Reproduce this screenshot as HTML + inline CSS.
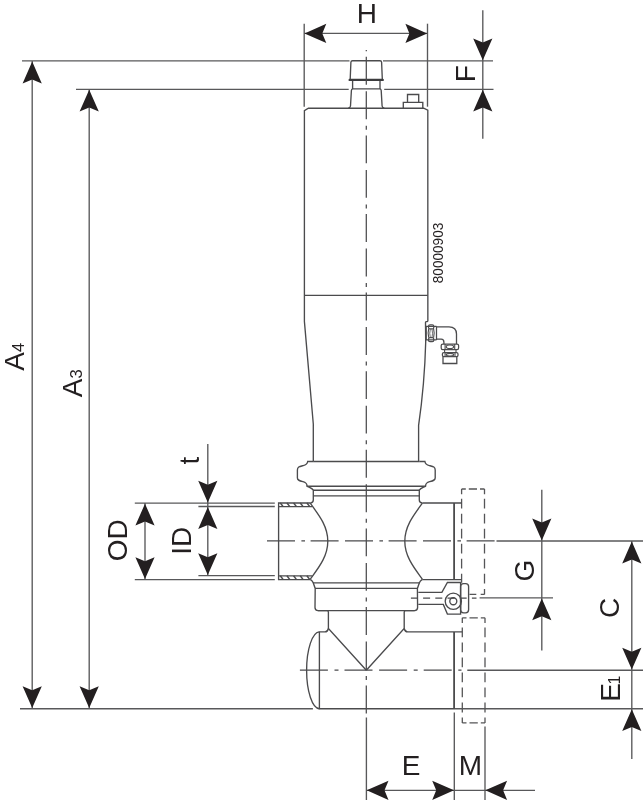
<!DOCTYPE html>
<html><head><meta charset="utf-8"><title>Valve dimension drawing</title>
<style>
html,body{margin:0;padding:0;background:#fff;}
body{width:644px;height:800px;overflow:hidden;}
svg{display:block;will-change:transform;}
text{font-family:"Liberation Sans",sans-serif;}
</style></head><body>
<svg width="644" height="800" viewBox="0 0 644 800">
<rect width="644" height="800" fill="#fff"/>
<line x1="304.2" y1="23.7" x2="304.2" y2="106.7" stroke="#58585a" stroke-width="1.35" />
<line x1="427.5" y1="23.7" x2="427.5" y2="106.7" stroke="#58585a" stroke-width="1.35" />
<line x1="304.2" y1="33.4" x2="427.5" y2="33.4" stroke="#58585a" stroke-width="1.35" />
<polygon points="304.50,33.40 326.30,23.80 322.30,33.40 326.30,43.00" fill="#231f20"/>
<polygon points="427.20,33.40 405.40,23.80 409.40,33.40 405.40,43.00" fill="#231f20"/>
<text x="366.9" y="23.3" font-size="28" text-anchor="middle" fill="#231f20" >H</text>
<line x1="22" y1="60.9" x2="349.5" y2="60.9" stroke="#58585a" stroke-width="1.35" />
<line x1="383" y1="60.9" x2="493" y2="60.9" stroke="#58585a" stroke-width="1.35" />
<line x1="76" y1="89.3" x2="348.7" y2="89.3" stroke="#58585a" stroke-width="1.35" />
<line x1="384.2" y1="89.3" x2="493.5" y2="89.3" stroke="#58585a" stroke-width="1.35" />
<line x1="482.8" y1="10.3" x2="482.8" y2="138.7" stroke="#58585a" stroke-width="1.35" />
<polygon points="482.80,60.30 473.20,38.50 482.80,42.50 492.40,38.50" fill="#231f20"/>
<polygon points="482.80,89.70 473.20,111.50 482.80,107.50 492.40,111.50" fill="#231f20"/>
<text transform="translate(475.3,82.3) rotate(-90)" font-size="28" text-anchor="start" fill="#231f20" >F</text>
<line x1="32.2" y1="61" x2="32.2" y2="708.7" stroke="#58585a" stroke-width="1.35" />
<polygon points="32.20,61.60 22.60,83.40 32.20,79.40 41.80,83.40" fill="#231f20"/>
<polygon points="32.20,708.10 22.60,686.30 32.20,690.30 41.80,686.30" fill="#231f20"/>
<line x1="89.2" y1="89.1" x2="89.2" y2="708.7" stroke="#58585a" stroke-width="1.35" />
<polygon points="89.20,89.70 79.60,111.50 89.20,107.50 98.80,111.50" fill="#231f20"/>
<polygon points="89.20,708.10 79.60,686.30 89.20,690.30 98.80,686.30" fill="#231f20"/>
<text transform="translate(24.2,370.7) rotate(-90)" font-size="28" text-anchor="start" fill="#231f20" >A<tspan font-size="16.5">4</tspan></text>
<text transform="translate(81.7,397.2) rotate(-90)" font-size="28" text-anchor="start" fill="#231f20" >A<tspan font-size="16.5">3</tspan></text>
<line x1="20" y1="708.75" x2="312.9" y2="708.75" stroke="#58585a" stroke-width="1.35" />
<line x1="454" y1="708.75" x2="643" y2="708.75" stroke="#58585a" stroke-width="1.35" />
<line x1="134.8" y1="503.1" x2="274.8" y2="503.1" stroke="#58585a" stroke-width="1.35" />
<line x1="134.8" y1="579.6" x2="274.8" y2="579.6" stroke="#58585a" stroke-width="1.35" />
<line x1="198.4" y1="506.5" x2="274.8" y2="506.5" stroke="#58585a" stroke-width="1.35" />
<line x1="198.4" y1="575.6" x2="274.8" y2="575.6" stroke="#58585a" stroke-width="1.35" />
<line x1="145" y1="503.1" x2="145" y2="579.6" stroke="#58585a" stroke-width="1.35" />
<polygon points="145.00,503.70 135.40,525.50 145.00,521.50 154.60,525.50" fill="#231f20"/>
<polygon points="145.00,579.00 135.40,557.20 145.00,561.20 154.60,557.20" fill="#231f20"/>
<line x1="207.8" y1="444" x2="207.8" y2="575.6" stroke="#58585a" stroke-width="1.35" />
<polygon points="207.80,502.50 198.20,480.70 207.80,484.70 217.40,480.70" fill="#231f20"/>
<polygon points="207.80,507.10 198.20,528.90 207.80,524.90 217.40,528.90" fill="#231f20"/>
<polygon points="207.80,575.00 198.20,553.20 207.80,557.20 217.40,553.20" fill="#231f20"/>
<text transform="translate(127.2,561.3) rotate(-90)" font-size="28" text-anchor="start" fill="#231f20" >OD</text>
<text transform="translate(191.2,554.7) rotate(-90)" font-size="28" text-anchor="start" fill="#231f20" >ID</text>
<text transform="translate(198.6,464.5) rotate(-90)" font-size="28" text-anchor="start" fill="#231f20" >t</text>
<line x1="541.8" y1="489.8" x2="541.8" y2="650.5" stroke="#58585a" stroke-width="1.35" />
<polygon points="541.80,540.40 532.20,518.60 541.80,522.60 551.40,518.60" fill="#231f20"/>
<polygon points="541.80,598.50 532.20,620.30 541.80,616.30 551.40,620.30" fill="#231f20"/>
<line x1="496.5" y1="541" x2="643" y2="541" stroke="#58585a" stroke-width="1.35" />
<line x1="479.6" y1="597.9" x2="553" y2="597.9" stroke="#58585a" stroke-width="1.35" />
<text transform="translate(533.6,581.5) rotate(-90)" font-size="28" text-anchor="start" fill="#231f20" >G</text>
<line x1="631.8" y1="541" x2="631.8" y2="759" stroke="#58585a" stroke-width="1.35" />
<polygon points="631.80,541.60 622.20,563.40 631.80,559.40 641.40,563.40" fill="#231f20"/>
<polygon points="631.80,669.60 622.20,647.80 631.80,651.80 641.40,647.80" fill="#231f20"/>
<polygon points="631.80,709.30 622.20,731.10 631.80,727.10 641.40,731.10" fill="#231f20"/>
<line x1="467.3" y1="670.2" x2="643" y2="670.2" stroke="#58585a" stroke-width="1.35" />
<text transform="translate(619.4,618) rotate(-90)" font-size="28" text-anchor="start" fill="#231f20" >C</text>
<text transform="translate(620,701.8) rotate(-90)" font-size="28" text-anchor="start" fill="#231f20" >E<tspan font-size="16" dx="-1.3">1</tspan></text>
<line x1="366.4" y1="717.5" x2="366.4" y2="800" stroke="#58585a" stroke-width="1.35" />
<line x1="454.3" y1="712.5" x2="454.3" y2="800" stroke="#58585a" stroke-width="1.35" />
<line x1="485" y1="726.6" x2="485" y2="800" stroke="#58585a" stroke-width="1.35" />
<line x1="366.4" y1="790.3" x2="535" y2="790.3" stroke="#58585a" stroke-width="1.35" />
<polygon points="366.70,790.30 388.50,780.70 384.50,790.30 388.50,799.90" fill="#231f20"/>
<polygon points="454.00,790.30 432.20,780.70 436.20,790.30 432.20,799.90" fill="#231f20"/>
<polygon points="485.30,790.30 507.10,780.70 503.10,790.30 507.10,799.90" fill="#231f20"/>
<text x="411.2" y="775.4" font-size="28" text-anchor="middle" fill="#231f20" >E</text>
<text x="470.5" y="775.4" font-size="28" text-anchor="middle" fill="#231f20" >M</text>
<path d="M461.6,489 L461.6,494.3 M461.6,498.8 L461.6,508.5 M461.6,513.8 L461.6,523.5 M461.6,528.8 L461.6,538.6 M461.6,543.8 L461.6,553.6 M461.6,558.8 L461.6,568.6 M461.6,573.8 L461.6,582.8 M484.5,489 L484.5,494.3 M484.5,498.8 L484.5,508.5 M484.5,513.8 L484.5,523.5 M484.5,528.8 L484.5,538.6 M484.5,543.8 L484.5,553.6 M484.5,558.8 L484.5,568.6 M484.5,573.8 L484.5,583.6 M484.5,588.9 L484.5,594.4 M461.6,489 L465.8,489 M468.8,489 L477,489 M480,489 L484.5,489 M480.7,594.4 L484.5,594.4 M469.5,594.4 L476.3,594.4" fill="none" stroke="#555557" stroke-width="1.3" />
<path d="M462.3,617.8 L462.3,623 M462.3,627.5 L462.3,637.3 M462.3,642.5 L462.3,652.3 M462.3,657.5 L462.3,667.3 M462.3,672.6 L462.3,682.3 M462.3,687.6 L462.3,697.3 M462.3,702.6 L462.3,712.4 M462.3,717.6 L462.3,722.9 M485,617.8 L485,623 M485,627.5 L485,637.3 M485,642.5 L485,652.3 M485,657.5 L485,667.3 M485,672.6 L485,682.3 M485,687.6 L485,697.3 M485,702.6 L485,712.4 M485,717.6 L485,722.9 M462.3,617.8 L466.5,617.8 M469.5,617.8 L477.8,617.8 M480.8,617.8 L485,617.8 M462.3,722.9 L466.5,722.9 M469.5,722.9 L477.8,722.9 M480.8,722.9 L485,722.9" fill="none" stroke="#555557" stroke-width="1.3" />
<path d="M350.9,62.2 Q351,60.7 352.5,60.7 L380,60.7 Q381.5,60.7 381.6,62.2 L382.3,79 M350.9,62.2 L350.2,79" fill="none" stroke="#4b4b4d" stroke-width="1.35" />
<line x1="349.7" y1="79.9" x2="382.7" y2="79.9" stroke="#3c3c3e" stroke-width="2.4" stroke-linecap="round"/>
<path d="M352.6,81 L352.6,88.8 L380,88.8 L380,81" fill="none" stroke="#4b4b4d" stroke-width="1.35" />
<path d="M352.6,88.8 Q351.5,89 351.4,90.5 L350.5,106 Q350.3,107.9 348.2,108.1 M380,88.8 Q381.1,89 381.2,90.5 L382.1,106 Q382.3,107.9 384.4,108.1" fill="none" stroke="#4b4b4d" stroke-width="1.35" />
<path d="M403.3,108.2 L403.3,102.4 L422.8,102.4 L422.8,108.2 M407.5,102.4 L407.5,94.5 L418.7,94.5 L418.7,102.4" fill="none" stroke="#4b4b4d" stroke-width="1.35" />
<path d="M313.3,461.5 L313.3,424 L304.4,321.4 L304.4,110.6 L308.4,108.2 L423.7,108.2 L427.8,110.2 L427.85,320.8 Q427.8,321.4 427.2,321.5 L426.2,321.6 Q425.5,321.7 425.5,322.5 L425.7,342.2 Q424.6,384 418.6,425.4 L418.6,461.5" fill="none" stroke="#4b4b4d" stroke-width="1.35" />
<line x1="304.4" y1="295.4" x2="427.8" y2="295.4" stroke="#4b4b4d" stroke-width="1.35" />
<path d="M313.3,461.5 L307.7,461.5 C307.3,464 306.5,464.8 303.2,465.6 C299.5,466.5 297.4,466.8 297.4,470 L297.4,478 C297.4,480.3 299.5,480.8 303,481.7 C306.3,482.6 307,483.5 307,486.2 C309,487.4 312,488 313.3,490.2 L313.3,500 Q313.3,502.6 310.6,503" fill="none" stroke="#4b4b4d" stroke-width="1.35" />
<path d="M419.3,461.5 L424.9,461.5 C425.3,464 426.1,464.8 429.4,465.6 C433.1,466.5 435.2,466.8 435.2,470 L435.2,478 C435.2,480.3 433.1,480.8 429.6,481.7 C426.3,482.6 425.6,483.5 425.6,486.2 C423.6,487.4 420.6,488 419.3,490.2 L419.3,500 Q419.3,502.6 422.0,503" fill="none" stroke="#4b4b4d" stroke-width="1.35" />
<line x1="313.3" y1="461.5" x2="419.3" y2="461.5" stroke="#4b4b4d" stroke-width="1.35" />
<line x1="306.8" y1="486.2" x2="425.8" y2="486.2" stroke="#4b4b4d" stroke-width="1.35" />
<line x1="313.3" y1="490.2" x2="419.3" y2="490.2" stroke="#4b4b4d" stroke-width="1.35" />
<line x1="313.3" y1="495.9" x2="419.3" y2="495.9" stroke="#4b4b4d" stroke-width="1.35" />
<path d="M310.6,503 L278.6,503 L278.6,579.6 L310.6,579.6" fill="none" stroke="#4b4b4d" stroke-width="1.35" />
<line x1="278.6" y1="506.6" x2="312.2" y2="506.6" stroke="#4b4b4d" stroke-width="1.35" />
<line x1="278.6" y1="575.8" x2="312.4" y2="575.8" stroke="#4b4b4d" stroke-width="1.35" />
<line x1="280.3" y1="503" x2="283.2" y2="506.6" stroke="#4b4b4d" stroke-width="1.5" />
<line x1="280.3" y1="575.8" x2="283.2" y2="579.6" stroke="#4b4b4d" stroke-width="1.5" />
<line x1="286.95" y1="503" x2="289.84999999999997" y2="506.6" stroke="#4b4b4d" stroke-width="1.5" />
<line x1="286.95" y1="575.8" x2="289.84999999999997" y2="579.6" stroke="#4b4b4d" stroke-width="1.5" />
<line x1="293.6" y1="503" x2="296.5" y2="506.6" stroke="#4b4b4d" stroke-width="1.5" />
<line x1="293.6" y1="575.8" x2="296.5" y2="579.6" stroke="#4b4b4d" stroke-width="1.5" />
<line x1="300.25" y1="503" x2="303.15" y2="506.6" stroke="#4b4b4d" stroke-width="1.5" />
<line x1="300.25" y1="575.8" x2="303.15" y2="579.6" stroke="#4b4b4d" stroke-width="1.5" />
<line x1="306.90000000000003" y1="503" x2="309.8" y2="506.6" stroke="#4b4b4d" stroke-width="1.5" />
<line x1="306.90000000000003" y1="575.8" x2="309.8" y2="579.6" stroke="#4b4b4d" stroke-width="1.5" />
<path d="M422.4,503.2 C414,514.7 404.8,526 404.8,541.2 C404.8,556.4 414,567.7 422.4,579.3" fill="none" stroke="#4b4b4d" stroke-width="1.35" />
<path d="M310.2,503.2 C318.6,514.7 327.8,526 327.8,541.2 C327.8,556.4 318.6,567.7 310.2,579.3" fill="none" stroke="#4b4b4d" stroke-width="1.35" />
<path d="M422.2,503 L461.6,503 M422.2,579.6 L461.6,579.6" fill="none" stroke="#4b4b4d" stroke-width="1.35" />
<line x1="454.1" y1="503" x2="454.1" y2="579.6" stroke="#4b4b4d" stroke-width="1.8" />
<path d="M310.6,579.6 Q312.6,581 313.2,582.8 L315.2,588.4 L315.0,607.6 Q315.0,610.6 318.0,610.6 L327,610.6 Q328.4,610.6 328.4,612 L328.4,628.5 L366.3,670.3" fill="none" stroke="#4b4b4d" stroke-width="1.35" />
<path d="M422.0,579.6 Q420.0,581 419.4,582.8 L417.4,588.4 L417.6,607.6 Q417.6,610.6 414.6,610.6 L405.6,610.6 Q404.2,610.6 404.2,612 L404.2,628.5 L366.3,670.3" fill="none" stroke="#4b4b4d" stroke-width="1.35" />
<line x1="313" y1="582.8" x2="419.6" y2="582.8" stroke="#4b4b4d" stroke-width="1.35" />
<line x1="315" y1="588.4" x2="417.6" y2="588.4" stroke="#4b4b4d" stroke-width="1.35" />
<line x1="318" y1="610.6" x2="414.6" y2="610.6" stroke="#4b4b4d" stroke-width="1.35" />
<path d="M328.4,628.5 Q327.6,631.9 325,631.9 L319.4,631.9 L319.4,708.75 L454.1,708.75" fill="none" stroke="#4b4b4d" stroke-width="1.35" />
<path d="M319.4,631.9 A13,38.43 0 0 0 319.4,708.75" fill="none" stroke="#4b4b4d" stroke-width="1.35" />
<path d="M404.2,628.5 Q405.0,631.9 407.6,631.9 L462.2,631.9" fill="none" stroke="#4b4b4d" stroke-width="1.35" />
<line x1="454.1" y1="631.9" x2="454.1" y2="708.75" stroke="#4b4b4d" stroke-width="1.8" />
<path d="M418.3,592.4 L441.9,592.4 L447.4,582.5 L460.6,582.5 L460.6,614.1 L447.4,614.1 L443.3,604.4 L418.3,604.4" fill="none" stroke="#4b4b4d" stroke-width="1.35" />
<circle cx="453.3" cy="601.2" r="8.1" fill="none" stroke="#4b4b4d" stroke-width="1.35"/>
<circle cx="453.3" cy="601.2" r="3.5" fill="none" stroke="#4b4b4d" stroke-width="1.35"/>
<rect x="460.6" y="583.6" width="8" height="29.2" rx="3" fill="none" stroke="#4b4b4d" stroke-width="1.35"/>
<path d="M425.5,326.3 L436.5,326.3 M425.5,339.9 L436.5,339.9 M426.2,326.3 L426.2,339.9 M436.5,326.3 L436.5,339.9" fill="none" stroke="#4b4b4d" stroke-width="1.25" />
<rect x="428.5" y="324.9" width="5.3" height="4" rx="1.5" fill="none" stroke="#4b4b4d" stroke-width="1.25"/>
<rect x="428.5" y="337.7" width="5.3" height="4" rx="1.5" fill="none" stroke="#4b4b4d" stroke-width="1.25"/>
<path d="M428.7,328.9 Q427.5,333.3 428.7,337.7 M433.6,328.9 Q434.8,333.3 433.6,337.7 " fill="none" stroke="#4b4b4d" stroke-width="1.1" />
<path d="M430.3,329.2 Q429.2,333.3 430.3,337.4 M432,329.2 Q433.1,333.3 432,337.4" fill="none" stroke="#4b4b4d" stroke-width="0.8" />
<path d="M436.5,326.9 L449,326.9 Q456.5,326.9 456.5,334.1 L456.5,344 M436.5,339.2 L441.2,339.2 Q443.9,339.2 443.9,342.2 L443.9,344" fill="none" stroke="#4b4b4d" stroke-width="1.3" />
<rect x="441.2" y="344" width="17.4" height="5.7" rx="1.6" fill="none" stroke="#4b4b4d" stroke-width="1.25"/>
<rect x="442.4" y="352.7" width="15.6" height="3.9" rx="1.4" fill="none" stroke="#4b4b4d" stroke-width="1.25"/>
<path d="M445.1,344 L445.1,349.7 M454.7,344 L454.7,349.7 M445.1,352.7 L445.1,356.6 M455,352.7 L455,356.6 M444.6,349.7 L444.6,352.7 M456,349.7 L456,352.7" fill="none" stroke="#4b4b4d" stroke-width="1.1" />
<ellipse cx="449.9" cy="346.85" rx="3.7" ry="1.8" fill="none" stroke="#4b4b4d" stroke-width="1.1"/>
<ellipse cx="450" cy="354.65" rx="3.7" ry="1.3" fill="none" stroke="#4b4b4d" stroke-width="1.1"/>
<path d="M443,356.6 L443,363.5 L456.8,363.5 L456.8,356.6" fill="none" stroke="#4b4b4d" stroke-width="1.3" />
<line x1="366.3" y1="50.0" x2="366.3" y2="714" stroke="#4b4b4d" stroke-width="1.25" stroke-dasharray="4 5.6 27.9 6.6 27.9 6.6" stroke-dashoffset="2.8"/>
<line x1="267" y1="540.9" x2="495.8" y2="540.9" stroke="#4b4b4d" stroke-width="1.25" stroke-dasharray="28 6.4 28 6.4 3.6 5.6" stroke-dashoffset="34.4"/>
<line x1="299.9" y1="670.2" x2="461.5" y2="670.2" stroke="#4b4b4d" stroke-width="1.25" stroke-dasharray="28 6.6 28 6.6 4 6" stroke-dashoffset="34.6"/>
<line x1="410.9" y1="598" x2="476.5" y2="598" stroke="#4b4b4d" stroke-width="1.25" stroke-dasharray="7 5.2"/>
<text transform="translate(443.4,283.2) rotate(-90)" font-size="14" text-anchor="start" fill="#231f20" textLength="60.5" lengthAdjust="spacingAndGlyphs" fill="#333">80000903</text>
</svg>
</body></html>
